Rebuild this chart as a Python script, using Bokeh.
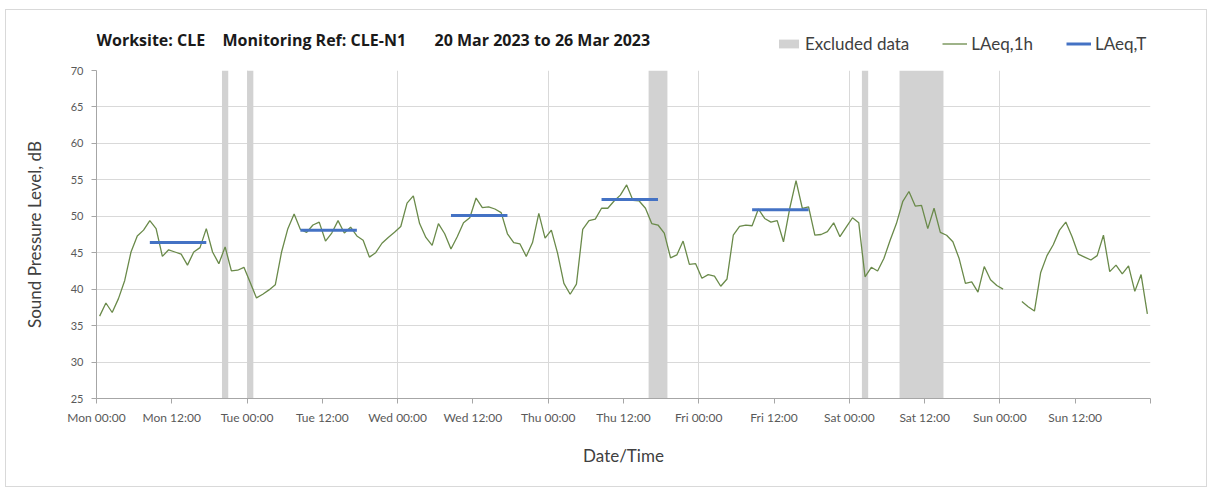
from bokeh.plotting import figure
from bokeh.layouts import column
from bokeh.models import FixedTicker, Legend, LegendItem, Label, Range1d
from bokeh.embed import file_html
from bokeh.resources import INLINE

FONT = "Lato"
TITLE_FONT = "Open Sans"

# ---------------- data ----------------
# hourly index from Mon 00:00 (each value is the LAeq over that hour)
hour_index = list(range(168))
laeq_1h = [
    36.3, 38.1, 36.8, 38.7, 41.2, 45.1, 47.3, 48.1, 49.4, 48.3, 44.5, 45.4,
    45.1, 44.8, 43.3, 45.1, 45.7, 48.3, 45.1, 43.5, 45.8, 42.5, 42.6, 43.0,
    40.9, 38.8, 39.3, 39.9, 40.6, 45.1, 48.3, 50.3, 48.2, 47.8, 48.8, 49.2,
    46.6, 47.7, 49.4, 47.7, 48.5, 47.3, 46.7, 44.4, 45.0, 46.3, 47.1, 47.8,
    48.6, 51.8, 52.8, 49.0, 47.1, 46.0, 49.0, 47.6, 45.5, 47.2, 49.1, 49.8,
    52.5, 51.2, 51.3, 51.0, 50.5, 47.6, 46.4, 46.2, 44.5, 46.4, 50.4, 47.0,
    48.1, 44.9, 40.8, 39.3, 40.7, 48.2, 49.4, 49.6, 51.1, 51.1, 52.1, 52.9,
    54.3, 52.2, 52.1, 51.1, 49.0, 48.8, 47.7, 44.3, 44.7, 46.6, 43.4, 43.5,
    41.5, 42.0, 41.8, 40.4, 41.4, 47.4, 48.6, 48.8, 48.7, 51.0, 49.7, 49.2,
    49.4, 46.5, 51.1, 54.9, 51.1, 51.3, 47.4, 47.5, 47.9, 49.1, 47.2, 48.5,
    49.8, 49.1, 41.7, 43.0, 42.5, 44.2, 46.7, 49.0, 52.0, 53.4, 51.4, 51.5,
    48.3, 51.1, 47.8, 47.4, 46.5, 44.2, 40.8, 41.0, 39.6, 43.1, 41.3, 40.5,
    40.0, float("nan"), float("nan"), 38.3, 37.6, 37.0, 42.3, 44.6, 46.1, 48.1, 49.2, 47.2,
    44.8, 44.4, 44.0, 44.6, 47.4, 42.4, 43.3, 42.1, 43.2, 39.7, 42.0, 36.6,
]

# excluded periods (hours from Mon 00:00)
excluded_start = [20, 24, 88, 122, 128]
excluded_end = [21, 25, 91, 123, 135]

# daytime LAeq,T (Mon..Fri)
laeq_t_day = [0, 1, 2, 3, 4]
laeq_t = [46.4, 48.1, 50.1, 52.3, 50.9]
laeq_t_first_hour = 8
laeq_t_last_hour = 17

tick_hours = list(range(0, 169, 12))
tick_labels = ["Mon 00:00", "Mon 12:00", "Tue 00:00", "Tue 12:00", "Wed 00:00",
               "Wed 12:00", "Thu 00:00", "Thu 12:00", "Fri 00:00", "Fri 12:00",
               "Sat 00:00", "Sat 12:00", "Sun 00:00", "Sun 12:00", ""]
y_ticks = list(range(25, 71, 5))

title_parts = ["Worksite: CLE", "Monitoring Ref: CLE-N1", "20 Mar 2023 to 26 Mar 2023"]
legend_labels = ["Excluded data", "LAeq,1h", "LAeq,T"]

BAND_COLOR = "#D2D2D2"
LINE_COLOR = "#6A8A4A"
T_COLOR = "#4472C4"
NAN = float("nan")

# ---------------- main chart ----------------
p = figure(width=1200, height=426, output_backend="svg", toolbar_location=None,
           x_range=Range1d(0, 168), y_range=Range1d(25, 70),
           min_border_left=90, min_border_right=56, min_border_top=10,
           min_border_bottom=88)
p.outline_line_color = None
p.border_fill_color = "white"

p.quad(left=excluded_start, right=excluded_end, bottom=25, top=70,
       fill_color=BAND_COLOR, line_color=None)

x_mid = [h + 0.5 for h in hour_index]
p.line(x_mid, laeq_1h, line_color=LINE_COLOR, line_width=1.3)

x0 = [d * 24 + laeq_t_first_hour + 0.5 for d in laeq_t_day]
x1 = [d * 24 + laeq_t_last_hour + 0.5 for d in laeq_t_day]
p.segment(x0=x0, y0=laeq_t, x1=x1, y1=laeq_t, line_color=T_COLOR, line_width=3)

p.xaxis.ticker = FixedTicker(ticks=tick_hours)
p.xaxis.major_label_overrides = {t: l for t, l in zip(tick_hours, tick_labels)}
p.yaxis.ticker = FixedTicker(ticks=y_ticks)
for ax in (p.xaxis[0], p.yaxis[0]):
    ax.axis_line_color = "#A6A6A6"
    ax.major_tick_line_color = "#A6A6A6"
    ax.major_tick_out = 5
    ax.major_tick_in = 0
    ax.minor_tick_line_color = None
    ax.major_label_text_font = FONT
    ax.major_label_text_color = "#595959"
    ax.axis_label_text_font = FONT
    ax.axis_label_text_font_size = "17px"
    ax.axis_label_text_font_style = "normal"
    ax.axis_label_text_color = "#404040"
p.xaxis.major_label_text_font_size = "12px"
p.yaxis.major_label_text_font_size = "11px"
p.xaxis.major_label_standoff = 6
p.yaxis.major_label_standoff = 8

p.yaxis.axis_label = "Sound Pressure Level, dB"
p.yaxis.axis_label_standoff = 23
p.xaxis.axis_label = "Date/Time"
p.xaxis.axis_label_standoff = 17

p.xgrid.ticker = FixedTicker(ticks=list(range(24, 169, 24)))
p.xgrid.grid_line_color = "#D9D9D9"
p.ygrid.ticker = FixedTicker(ticks=y_ticks)
p.ygrid.grid_line_color = "#D9D9D9"

# ---------------- header: title + legend ----------------
h = figure(width=1200, height=50, output_backend="svg", toolbar_location=None,
           x_range=Range1d(0, 1), y_range=Range1d(0, 1),
           x_axis_type=None, y_axis_type=None,
           min_border_left=0, min_border_right=0, min_border_top=0,
           min_border_bottom=0)
h.outline_line_color = None
h.grid.visible = False

for xo, txt in zip([0, 126, 338], title_parts):
    h.add_layout(Label(x=xo, y=21, x_units="screen", y_units="screen",
                       text=txt, text_font=TITLE_FONT, text_font_size="16px",
                       text_font_style="bold", text_color="#1A1A1A",
                       text_align="left", text_baseline="middle"))

# legend keys (styled like the chart marks, no visible data in the header)
k_band = h.quad(left=[NAN], right=[NAN], bottom=[NAN], top=[NAN],
                fill_color=BAND_COLOR, line_color=None)
k_line = h.line([NAN], [NAN], line_color=LINE_COLOR, line_width=1.3)
k_seg = h.segment(x0=[NAN], y0=[NAN], x1=[NAN], y1=[NAN], line_color=T_COLOR,
                  line_width=3)

legend = Legend(items=[LegendItem(label=lab, renderers=[r])
                       for lab, r in zip(legend_labels, [k_band, k_line, k_seg])],
                orientation="horizontal", location=(680, 6),
                glyph_width=25, glyph_height=11, label_standoff=4, spacing=33,
                padding=0, margin=0, border_line_color=None,
                background_fill_alpha=0, label_text_font=FONT,
                label_text_font_size="17px", label_text_color="#404040",
                label_height=16)
h.add_layout(legend)

layout = column(h, p, spacing=0,
                styles={"border": "1px solid #D9D9D9", "margin-left": "5px",
                        "margin-top": "9px"})

open("out.html", "w").write(file_html(layout, INLINE))
